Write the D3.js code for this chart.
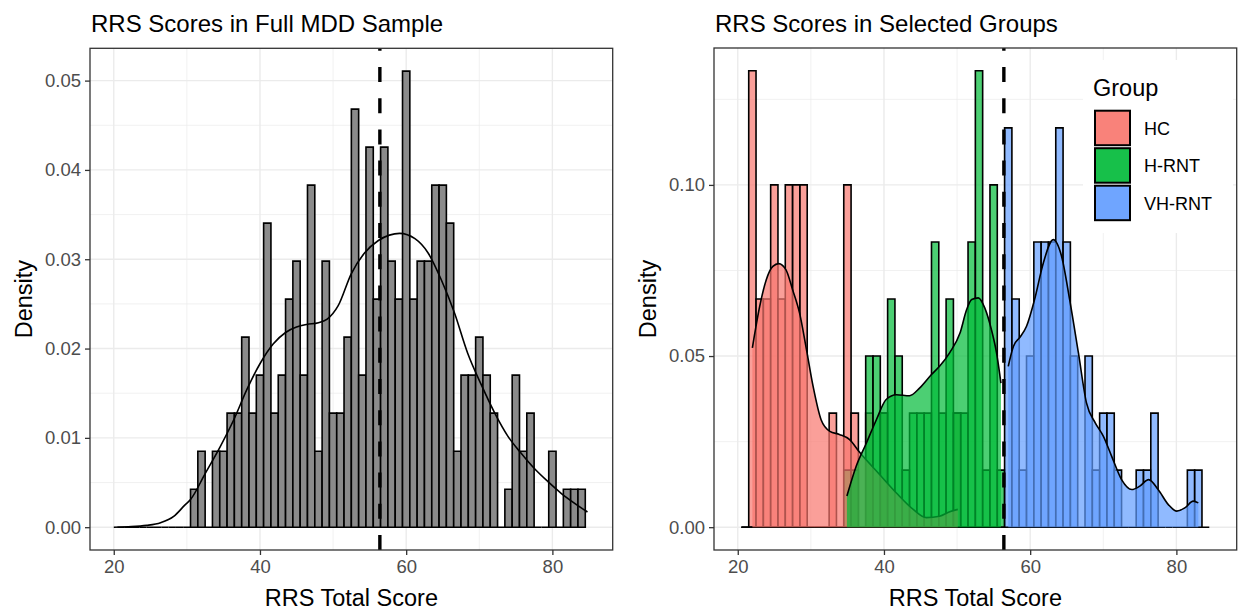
<!DOCTYPE html>
<html>
<head>
<meta charset="utf-8">
<script src="https://cdn.jsdelivr.net/npm/d3@7"></script>
<style>
  body { margin: 0; background: #fff; }
  text { font-family: "Liberation Sans", Arial, sans-serif; }
</style>
</head>
<body>
<svg id="chart" width="1238" height="614"></svg>
<script>
// bins are 1 point wide, centred on integers, first centre = 21
const binStart = 21;

// counts per bin, scores 21..84
const fullCounts = [0,0,0,0,0,0,0,0,0,0,
  1,2,0,2,2,3,3,5,3,4, 8,3,4,6,7,4,9,2,7,3,
  3,5,11,4,10,6,10,7,6,12, 6,7,7,9,9,8,2,4,4,5,
  4,3,0,1,4,2,3,0,0,2, 0,1,1,1];

const hcCounts = [0,4,2,2,3,2,3,3,3,0, 0,0,1,0,3,1,0,1,0,1,
  0,0,0,0,0,0,0,0,0,1];
const hrntCounts = [0,0,0,0,0,0,0,0,0,0, 0,0,0,0,1,1,0,3,3,2,
  4,3,1,2,2,2,5,2,4,2, 2,5,8,1,6,1];
const vhrntCounts = [0,0,0,0,0,0,0,0,0,0, 0,0,0,0,0,0,0,0,0,0,
  0,0,0,0,0,0,0,0,0,0, 0,0,0,0,0,0,7,4,1,3,
  5,5,5,7,5,3,0,3,1,2, 2,1,0,0,1,1,2,0,0,0, 0,1,1,0];

// kernel density curves [score, density]
const fullDensity = [[20,0],[22,0.00005],[24.5,0.0002],[26.4,0.0005],[28.2,0.0012],[29.75,0.0025],
  [30.5,0.0031],[32.5,0.006],[34.55,0.009],[36.4,0.012],[38.2,0.0154],[40,0.0183],[41.8,0.0205],
  [43.5,0.0218],[45,0.0224],[46.4,0.0227],[48,0.0229],[49.2,0.0233],[50.7,0.0248],[52.5,0.0284],
  [54.3,0.0307],[56.2,0.0321],[57.7,0.0327],[59.1,0.0329],[61.2,0.0323],[63,0.0307],[64.8,0.0277],
  [66.6,0.024],[68.4,0.0195],[70.3,0.0159],[72.1,0.0128],[73.9,0.0102],[75.7,0.0083],[77.5,0.0066],
  [79.4,0.0051],[81.2,0.0038],[83,0.0027],[84.8,0.0017]];

const hcDensity = [[22,0.0524],[23,0.0645],[23.9,0.0723],[24.8,0.0762],[25.6,0.077],[26.6,0.0752],
  [27.5,0.0694],[28.45,0.0626],[29.4,0.0519],[30.3,0.0412],[31.4,0.0314],[32.6,0.028],[33.9,0.0271],
  [35.3,0.0256],[36.7,0.0218],[39.4,0.0154],[41.7,0.01],[44,0.0052],[45.8,0.0028],[47.6,0.0032],
  [49,0.0045],[50.1,0.0052]];
const hrntDensity = [[34.93,0.0091],[36.2,0.0178],[37.6,0.0246],[38.96,0.0314],[40.3,0.0373],
  [41.7,0.0387],[43.5,0.0384],[44.9,0.0407],[46.5,0.0446],[47.6,0.047],[49,0.051],[50.4,0.0567],
  [51.3,0.0635],[52,0.0665],[52.9,0.067],[53.8,0.064],[54.7,0.0577],[55.4,0.0509],[56,0.0421]];
const vhrntDensity = [[57,0.047],[57.7,0.0528],[58.6,0.0555],[59.5,0.0587],[60.6,0.0665],[61.8,0.0772],
  [63.15,0.084],[64.3,0.0791],[65.4,0.0665],[66.6,0.0509],[67.7,0.0363],[68.9,0.0305],[70,0.0266],
  [71.15,0.0207],[72.5,0.0139],[73.9,0.011],[75,0.012],[76.2,0.0139],[77.5,0.011],[78.9,0.0066],
  [80.05,0.0047],[81.2,0.0057],[82.3,0.0076],[83,0.0071]];

const groups = ["HC", "H-RNT", "VH-RNT"];
const groupColors = ["#F8766D", "#00BA38", "#619CFF"];
const cutoff = 56.4;
const xTicks = [20, 40, 60, 80];
const xMinor = [30, 50, 70];
const leftYTicks = [0, 0.01, 0.02, 0.03, 0.04, 0.05];
const rightYTicks = [0, 0.05, 0.10];

const svg = d3.select("#chart");

// turn counts into density bins
function toBins(counts) {
  const n = d3.sum(counts);
  return counts.map((c, i) => ({ x0: binStart + i - 0.5, x1: binStart + i + 0.5, d: c / n }));
}

function drawPanel(p) {
  const g = svg.append("g");
  const x = d3.scaleLinear().domain([16.75, 88.25]).range([p.left, p.right]);
  const ymax = p.ymax;
  const y = d3.scaleLinear().domain([-0.05 * ymax, 1.05 * ymax]).range([p.bottom, p.top]);

  // grid
  const yMinor = d3.range(p.yStep / 2, 1.05 * ymax, p.yStep);
  g.selectAll(".ymin").data(yMinor).join("line")
    .attr("x1", p.left).attr("x2", p.right).attr("y1", d => y(d)).attr("y2", d => y(d))
    .attr("stroke", "#EBEBEB").attr("stroke-width", 0.7);
  g.selectAll(".xmin").data(xMinor).join("line")
    .attr("y1", p.top).attr("y2", p.bottom).attr("x1", d => x(d)).attr("x2", d => x(d))
    .attr("stroke", "#EBEBEB").attr("stroke-width", 0.7);
  g.selectAll(".ymaj").data(p.yTicks).join("line")
    .attr("x1", p.left).attr("x2", p.right).attr("y1", d => y(d)).attr("y2", d => y(d))
    .attr("stroke", "#EBEBEB").attr("stroke-width", 1.4);
  g.selectAll(".xmaj").data(xTicks).join("line")
    .attr("y1", p.top).attr("y2", p.bottom).attr("x1", d => x(d)).attr("x2", d => x(d))
    .attr("stroke", "#EBEBEB").attr("stroke-width", 1.4);

  // histogram bars (zero bins show as a flat line)
  p.bins.forEach((bins, k) => {
    g.append("g").selectAll("path").data(bins).join("path")
      .attr("d", b => `M${x(b.x0)},${y(0)}V${y(b.d)}H${x(b.x1)}V${y(0)}Z`)
      .attr("fill", p.fills[k]).attr("fill-opacity", p.barAlpha)
      .attr("stroke", "#000").attr("stroke-width", 1.6);
  });

  // density curves
  const line = d3.line().x(d => x(d[0])).y(d => y(d[1])).curve(d3.curveMonotoneX);
  const area = d3.area().x(d => x(d[0])).y0(y(0)).y1(d => y(d[1])).curve(d3.curveMonotoneX);
  p.densities.forEach((dens, k) => {
    if (p.densFill) {
      g.append("path").attr("d", area(dens))
        .attr("fill", p.fills[k]).attr("fill-opacity", 0.7);
    }
    g.append("path").attr("d", line(dens))
      .attr("fill", "none").attr("stroke", "#000").attr("stroke-width", 1.6);
  });

  // cutoff line, dashes start from the bottom
  g.append("line")
    .attr("x1", x(cutoff)).attr("x2", x(cutoff)).attr("y1", p.bottom).attr("y2", p.top)
    .attr("stroke", "#000").attr("stroke-width", 3.4).attr("stroke-dasharray", "15,16.2");

  // border
  g.append("rect").attr("x", p.left).attr("y", p.top)
    .attr("width", p.right - p.left).attr("height", p.bottom - p.top)
    .attr("fill", "none").attr("stroke", "#333333").attr("stroke-width", 1.3);

  // axes
  const xAxis = g.append("g").attr("transform", `translate(0,${p.bottom})`)
    .call(d3.axisBottom(x).tickValues(xTicks).tickSize(5).tickPadding(5));
  const yAxis = g.append("g").attr("transform", `translate(${p.left},0)`)
    .call(d3.axisLeft(y).tickValues(p.yTicks).tickSize(5).tickPadding(4).tickFormat(d3.format(".2f")));
  [xAxis, yAxis].forEach(a => {
    a.select(".domain").remove();
    a.selectAll(".tick line").attr("stroke", "#333333").attr("stroke-width", 1.3);
    a.selectAll(".tick text").attr("fill", "#4D4D4D").style("font-size", "18.5px")
      .style("font-family", '"Liberation Sans", Arial, sans-serif');
  });

  // titles
  g.append("text").attr("x", p.left + 1).attr("y", 32).attr("fill", "#000")
    .style("font-size", "24px").text(p.title);
  g.append("text").attr("x", (p.left + p.right) / 2).attr("y", 606)
    .attr("text-anchor", "middle").style("font-size", "23.5px").text("RRS Total Score");
  g.append("text").attr("transform", `translate(${p.left - 58},${(p.top + p.bottom) / 2}) rotate(-90)`)
    .attr("text-anchor", "middle").style("font-size", "23.5px").text("Density");
  return g;
}

drawPanel({
  left: 90, right: 612.7, top: 48.3, bottom: 550,
  ymax: d3.max(fullCounts) / d3.sum(fullCounts), yStep: 0.01, yTicks: leftYTicks,
  bins: [toBins(fullCounts)], fills: ["#8B8B8B"], barAlpha: 1,
  densities: [fullDensity], densFill: false,
  title: "RRS Scores in Full MDD Sample"
});

const right = drawPanel({
  left: 714, right: 1236.7, top: 48, bottom: 550,
  ymax: d3.max(hcCounts) / d3.sum(hcCounts), yStep: 0.05, yTicks: rightYTicks,
  bins: [toBins(hcCounts), toBins(hrntCounts), toBins(vhrntCounts)], fills: groupColors, barAlpha: 0.7,
  densities: [hcDensity, hrntDensity, vhrntDensity], densFill: true,
  title: "RRS Scores in Selected Groups"
});

// legend
const leg = right.append("g");
leg.append("rect").attr("x", 1083).attr("y", 60).attr("width", 150).attr("height", 173).attr("fill", "#fff");
leg.append("text").attr("x", 1093).attr("y", 96).style("font-size", "23.5px").text("Group");
groups.forEach((gname, i) => {
  const ky = 110.7 + i * 37.5;
  leg.append("rect").attr("x", 1095).attr("y", ky).attr("width", 35).attr("height", 34.5)
    .attr("fill", groupColors[i]).attr("fill-opacity", 0.91)
    .attr("stroke", "#000").attr("stroke-width", 2);
  leg.append("text").attr("x", 1144).attr("y", ky + 17.5).attr("dy", "0.35em")
    .style("font-size", "18px").text(gname);
});
</script>
</body>
</html>
